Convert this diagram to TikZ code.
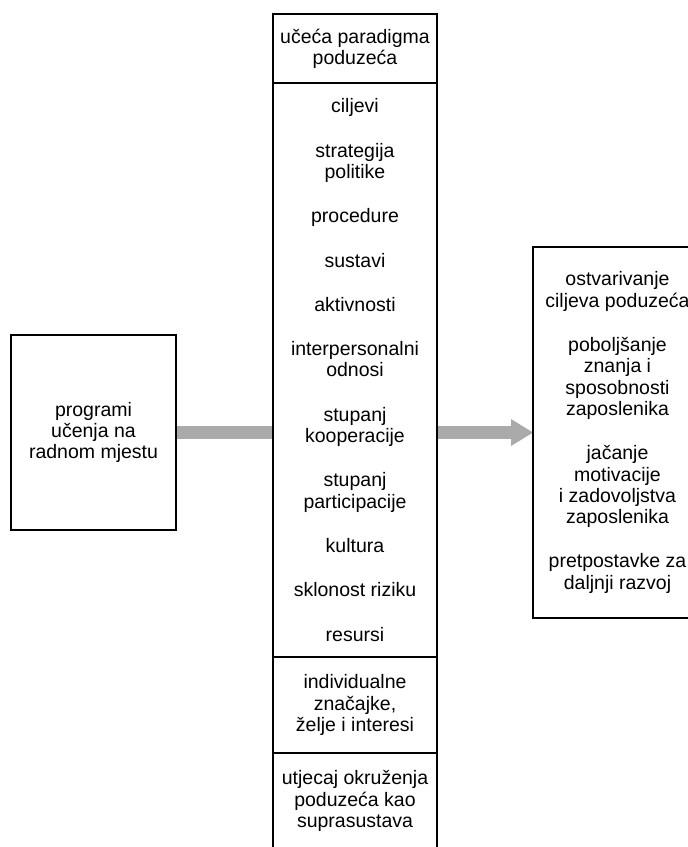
\documentclass[tikz,border=0pt]{standalone}
\usepackage{fontspec}
\setmainfont{Liberation Sans}
\usetikzlibrary{arrows.meta,positioning,backgrounds}
\definecolor{flowgray}{RGB}{170,170,170}
\newcommand{\itemgap}{\\[23pt]}
\tikzset{
  pbox/.style={rectangle, draw=black, line width=1.2pt, outer sep=0pt,
               inner sep=0pt, align=center, font=\fontsize{19.5}{21.3}\selectfont},
  colbox/.style={pbox, minimum width=164pt},
  flowbar/.style={line width=13pt, flowgray},
  flowarrow/.style={flowbar, -{Triangle[length=22pt, width=27pt, line width=0pt]}},
}
\begin{document}
\begin{tikzpicture}[x=1pt, y=-1pt]
\useasboundingbox (0,0) rectangle (688,847);
\node[pbox, minimum width=165pt, minimum height=195pt] (prog) at (93.5,432.5)
  {programi\\učenja na\\radnom mjestu};
% middle column
\node[colbox, minimum height=69pt] (paradigm) at (355,48.5)
  {učeća paradigma\\poduzeća};
\node[colbox, minimum height=574pt, below=0pt of paradigm] (elements)
  {ciljevi\itemgap strategija\\politike\itemgap procedure\itemgap sustavi\itemgap
   aktivnosti\itemgap interpersonalni\\odnosi\itemgap stupanj\\kooperacije\itemgap
   stupanj\\participacije\itemgap kultura\itemgap sklonost riziku\itemgap resursi};
\node[colbox, minimum height=96pt, below=0pt of elements] (individual)
  {individualne\\značajke,\\želje i interesi};
\node[colbox, minimum height=96pt, below=0pt of individual] (environment)
  {utjecaj okruženja\\poduzeća kao\\suprasustava};
\node[pbox, minimum width=169pt, minimum height=371pt] (effects) at (617.5,432.5)
  {ostvarivanje\\ciljeva poduzeća\itemgap poboljšanje\\znanja i\\sposobnosti\\zaposlenika\itemgap
   jačanje\\motivacije\\i zadovoljstva\\zaposlenika\itemgap pretpostavke za\\daljnji razvoj};
\begin{scope}[on background layer]
\draw[flowbar] (prog.east) -- (prog.east -| elements.west);
\draw[flowarrow] (elements.east |- effects.west) -- (effects.west);
\end{scope}
\end{tikzpicture}
\end{document}
